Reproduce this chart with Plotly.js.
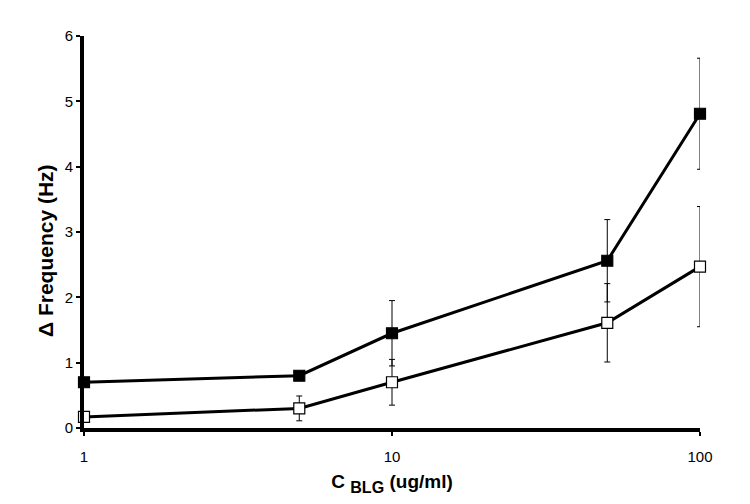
<!DOCTYPE html>
<html><head><meta charset="utf-8">
<script src="https://cdn.plot.ly/plotly-3.0.1.min.js"></script>
<style>body{margin:0;background:#fff}#c{width:750px;height:504px}</style>
</head><body><div id="c"></div>
<script>
var conc = [1, 5, 10, 50, 100];
var filledVals = [0.70, 0.80, 1.45, 2.56, 4.81];
var filledErr = [0, 0, 0.50, 0.63, 0.85];
var openVals = [0.17, 0.30, 0.70, 1.61, 2.47];
var openErr = [0, 0.19, 0.35, 0.60, 0.92];
var xTicks = [1, 10, 100];
var yTicks = [0, 1, 2, 3, 4, 5, 6];
var xTitle = '<b>C <span style="font-size:23px"><sub>BLG</sub></span> (ug/ml)</b>';
var yTitle = '<b>Δ Frequency (Hz)</b>';

var font = "Liberation Sans, Arial, sans-serif";
function trace(y, err, fill) {
  return {
    x: conc, y: y, type: 'scatter', mode: 'lines+markers',
    line: {color: '#000', width: 3},
    marker: {symbol: 'square', size: 11, color: fill, line: {color: '#000', width: 1.2}},
    error_y: {type: 'data', array: err, visible: true, color: '#000', thickness: 1, width: 3},
    cliponaxis: false, showlegend: false
  };
}
Plotly.newPlot('c', [trace(openVals, openErr, '#fff'), trace(filledVals, filledErr, '#000')], {
  width: 750, height: 504,
  margin: {l: 84, r: 50, t: 36, b: 76},
  paper_bgcolor: '#fff', plot_bgcolor: '#fff',
  font: {family: font, color: '#000', size: 14},
  xaxis: {
    type: 'log', range: [0, 2], tickvals: xTicks, ticktext: xTicks.map(String),
    showgrid: false, zeroline: false, showline: true, linecolor: '#000', linewidth: 4,
    ticks: 'outside', ticklen: 4, tickwidth: 2, tickcolor: '#000',
    ticklabelstandoff: 8,
    tickfont: {size: 15, family: font},
    title: {text: xTitle, font: {size: 19, family: font}, standoff: 12}
  },
  yaxis: {
    range: [0, 6], tickvals: yTicks,
    showgrid: false, zeroline: false, showline: true, linecolor: '#000', linewidth: 4,
    ticks: 'outside', ticklen: 4, tickwidth: 2, tickcolor: '#000',
    tickfont: {size: 15, family: font}
  },
  annotations: [{
    text: yTitle, xref: 'paper', yref: 'paper', x: -0.0633, y: 0.4515,
    xanchor: 'center', yanchor: 'middle', textangle: -90, showarrow: false,
    font: {size: 21, family: font, color: '#000'}
  }]
}, {displayModeBar: false, staticPlot: true});
</script>
</body></html>
